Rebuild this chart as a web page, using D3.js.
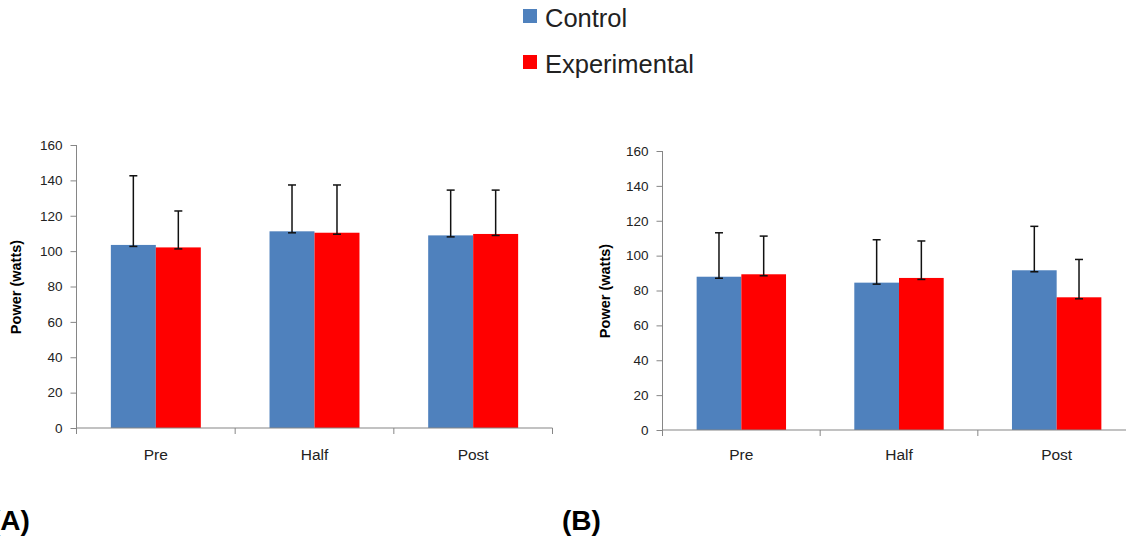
<!DOCTYPE html>
<html>
<head>
<meta charset="utf-8">
<script src="https://cdn.jsdelivr.net/npm/d3@7"></script>
<style>
  html, body { margin: 0; padding: 0; background: #fff; }
  svg { display: block; font-family: "Liberation Sans", Arial, sans-serif; }
</style>
</head>
<body>
<svg id="chart" width="1126" height="540"></svg>
<script>
// ---- data ----
const categories = ["Pre", "Half", "Post"];
const seriesNames = ["Control", "Experimental"];
const yTicks = [0, 20, 40, 60, 80, 100, 120, 140, 160];

const controlA = [103.5, 111.2, 108.9];
const controlAErr = [39.1, 26.2, 25.6];
const experimentalA = [102.1, 110.4, 109.7];
const experimentalAErr = [20.6, 27.0, 24.8];

const controlB = [87.9, 84.5, 91.6];
const controlBErr = [25.2, 24.6, 25.2];
const experimentalB = [89.3, 87.2, 76.1];
const experimentalBErr = [21.9, 21.2, 21.7];

const panelLabels = ["(A)", "(B)"];
const yTitle = "Power (watts)";

const colors = ["#4F81BD", "#FF0000"];
const axisColor = "#868686";
const textColor = "#222";

const svg = d3.select("#chart");

function drawPanel(cfg) {
  const g = svg.append("g");
  const x = d3.scaleBand().domain(categories).range([cfg.x0, cfg.x1])
    .paddingInner(0.433).paddingOuter(0.2165);
  const xs = d3.scaleBand().domain(seriesNames).range([0, x.bandwidth()]);
  const y = d3.scaleLinear().domain([0, 160]).range([cfg.yb, cfg.yt]);

  const series = [
    { name: seriesNames[0], vals: cfg.control, errs: cfg.controlErr, color: colors[0] },
    { name: seriesNames[1], vals: cfg.exp, errs: cfg.expErr, color: colors[1] }
  ];

  // bars
  series.forEach(s => {
    g.selectAll(null).data(categories).enter().append("rect")
      .attr("x", c => x(c) + xs(s.name))
      .attr("width", xs.bandwidth())
      .attr("y", (c, i) => y(s.vals[i]))
      .attr("height", (c, i) => y(0) - y(s.vals[i]))
      .attr("fill", s.color);
  });

  // error bars
  series.forEach(s => {
    categories.forEach((c, i) => {
      const cx = x(c) + xs(s.name) + xs.bandwidth() / 2;
      const yTop = y(s.vals[i] + s.errs[i]);
      const yBot = y(s.vals[i]) + 1.5;
      g.append("line").attr("x1", cx).attr("x2", cx).attr("y1", yTop).attr("y2", yBot)
        .attr("stroke", "#111").attr("stroke-width", 1.5);
      [yTop, yBot].forEach(yy => {
        g.append("line").attr("x1", cx - 4).attr("x2", cx + 4).attr("y1", yy).attr("y2", yy)
          .attr("stroke", "#111").attr("stroke-width", 1.5);
      });
    });
  });

  // y axis
  const yAxis = d3.axisLeft(y).tickValues(yTicks).tickSize(6).tickPadding(8);
  const ya = g.append("g").attr("transform", `translate(${cfg.x0},0)`).call(yAxis);
  ya.select(".domain").attr("stroke", axisColor).attr("d", `M0,${cfg.yb}V${cfg.yt}`);
  ya.selectAll(".tick line").attr("stroke", axisColor);
  ya.selectAll(".tick text").attr("fill", textColor).style("font-size", "13.5px")
    .style("font-family", '"Liberation Sans", Arial, sans-serif');

  // x axis (line with category boundary ticks)
  const step = x.step();
  const boundaries = d3.range(categories.length + 1).map(i => cfg.x0 + i * step);
  g.append("line").attr("x1", cfg.x0).attr("x2", cfg.x1).attr("y1", cfg.yb).attr("y2", cfg.yb)
    .attr("stroke", axisColor).attr("stroke-width", 1.2);
  g.selectAll(null).data(boundaries).enter().append("line")
    .attr("x1", d => d).attr("x2", d => d).attr("y1", cfg.yb).attr("y2", cfg.yb + 6)
    .attr("stroke", axisColor);
  g.selectAll(null).data(categories).enter().append("text")
    .attr("x", c => x(c) + x.bandwidth() / 2)
    .attr("y", cfg.labelY)
    .attr("text-anchor", "middle")
    .attr("fill", textColor)
    .style("font-size", "15.5px")
    .text(c => c);

  // y title
  g.append("text")
    .attr("transform", `translate(${cfg.titleX},${cfg.titleY}) rotate(-90)`)
    .attr("text-anchor", "middle")
    .attr("fill", "#000")
    .style("font-size", "14.5px")
    .style("font-weight", "bold")
    .text(yTitle);

  // panel label
  g.append("text")
    .attr("x", cfg.panelX).attr("y", 530)
    .attr("fill", "#000")
    .style("font-size", "28px")
    .style("font-weight", "bold")
    .text(cfg.label);
}

drawPanel({
  x0: 76.5, x1: 552.5, yb: 428, yt: 145, labelY: 460,
  control: controlA, controlErr: controlAErr, exp: experimentalA, expErr: experimentalAErr,
  titleX: 21, titleY: 287, label: panelLabels[0], panelX: -9
});
drawPanel({
  x0: 662.5, x1: 1135.5, yb: 430, yt: 151, labelY: 460,
  control: controlB, controlErr: controlBErr, exp: experimentalB, expErr: experimentalBErr,
  titleX: 610, titleY: 291, label: panelLabels[1], panelX: 562
});

// legend
const legend = svg.append("g");
seriesNames.forEach((name, i) => {
  const yy = i * 46;
  legend.append("rect").attr("x", 523).attr("y", 9 + yy).attr("width", 14).attr("height", 14)
    .attr("fill", colors[i]);
  legend.append("text").attr("x", 545).attr("y", 27 + yy)
    .attr("fill", textColor).style("font-size", "25.5px").text(name);
});
</script>
</body>
</html>
